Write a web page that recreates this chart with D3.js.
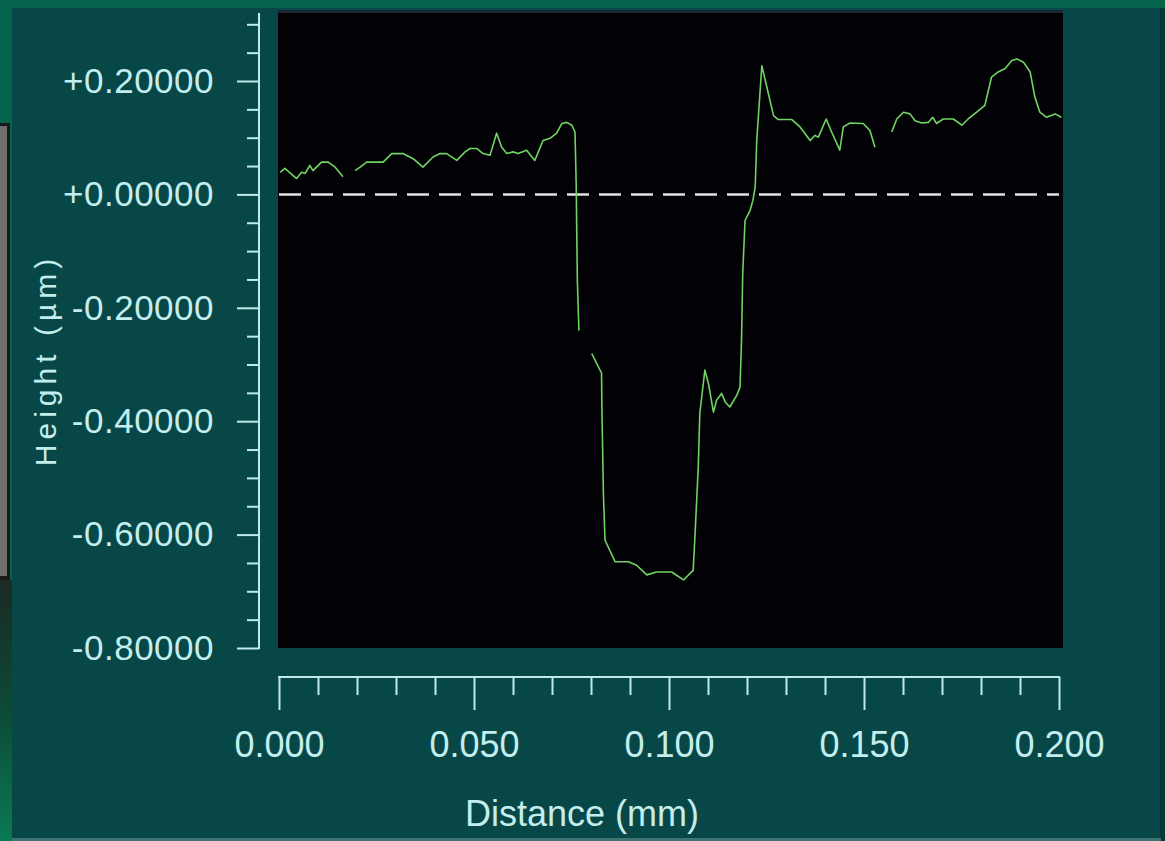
<!DOCTYPE html>
<html>
<head>
<meta charset="utf-8">
<script src="https://cdn.jsdelivr.net/npm/d3@7"></script>
<style>
  html, body { margin: 0; padding: 0; background: #05644b; }
  svg { display: block; }
</style>
</head>
<body>
<svg id="chart" width="1165" height="841"></svg>
<script>
// ---- Data (distance in mm, height in µm; null marks a gap in the trace) ----
const distance = [
  0.0003, 0.0015, 0.0045, 0.0058, 0.0067, 0.0079, 0.0087, 0.0109, 0.0126, 0.0144, 0.0164,
  0.0180,
  0.0195, 0.0208, 0.0225, 0.0267, 0.0289, 0.0318, 0.0344, 0.0369, 0.0395, 0.0413, 0.0430,
  0.0456, 0.0477, 0.0490, 0.0507, 0.0523, 0.0541, 0.0558, 0.0571, 0.0584, 0.0600, 0.0613,
  0.0635, 0.0656, 0.0677, 0.0695, 0.0712, 0.0725, 0.0738, 0.0751, 0.0759, 0.0762, 0.0765,
  0.0769,
  0.0785,
  0.0802, 0.0819, 0.0827, 0.0828, 0.0832, 0.0836, 0.0862, 0.0896, 0.0917, 0.0943, 0.0968,
  0.1007, 0.1037, 0.1062, 0.1067, 0.1075, 0.1079, 0.1092, 0.1101, 0.1114, 0.1122, 0.1135,
  0.1144, 0.1156, 0.1174, 0.1182, 0.1186, 0.1189, 0.1195, 0.1208, 0.1215, 0.1221, 0.1225,
  0.1238, 0.1251, 0.1268, 0.1280, 0.1315, 0.1336, 0.1362, 0.1374, 0.1383, 0.1403, 0.1417,
  0.1438, 0.1447, 0.1464, 0.1498, 0.1515, 0.1528,
  0.1550,
  0.1571, 0.1584, 0.1601, 0.1618, 0.1631, 0.1648, 0.1665, 0.1676, 0.1686, 0.1703, 0.1729,
  0.1751, 0.1767, 0.1789, 0.1810, 0.1827, 0.1844, 0.1862, 0.1879, 0.1892, 0.1909, 0.1926,
  0.1938, 0.1951, 0.1968, 0.1990, 0.2006
];
const height = [
  0.039, 0.046, 0.028, 0.039, 0.037, 0.051, 0.042, 0.057, 0.057, 0.048, 0.031,
  null,
  0.042, 0.048, 0.057, 0.057, 0.072, 0.072, 0.063, 0.048, 0.066, 0.072, 0.072,
  0.060, 0.075, 0.081, 0.081, 0.072, 0.069, 0.108, 0.083, 0.072, 0.075, 0.072,
  0.078, 0.060, 0.095, 0.099, 0.108, 0.125, 0.127, 0.122, 0.110, 0.019, -0.152,
  -0.240,
  null,
  -0.281, -0.304, -0.315, -0.381, -0.533, -0.610, -0.648, -0.648, -0.654, -0.671, -0.666,
  -0.666, -0.680, -0.663, -0.597, -0.481, -0.386, -0.310, -0.333, -0.384, -0.363, -0.351,
  -0.366, -0.375, -0.354, -0.340, -0.257, -0.139, -0.046, -0.028, -0.011, 0.013, 0.095,
  0.227, 0.189, 0.139, 0.132, 0.132, 0.119, 0.095, 0.104, 0.101, 0.133, 0.110,
  0.078, 0.119, 0.126, 0.125, 0.113, 0.083,
  null,
  0.110, 0.133, 0.145, 0.142, 0.130, 0.126, 0.127, 0.136, 0.125, 0.133, 0.133,
  0.122, 0.133, 0.145, 0.157, 0.207, 0.216, 0.222, 0.236, 0.239, 0.233, 0.216,
  0.172, 0.145, 0.136, 0.142, 0.136
];
const xMajorTicks = [0, 0.05, 0.10, 0.15, 0.20];
const xMinorTicks = [0.01, 0.02, 0.03, 0.04, 0.06, 0.07, 0.08, 0.09, 0.11, 0.12, 0.13, 0.14, 0.16, 0.17, 0.18, 0.19];
const yMajorTicks = [0.2, 0.0, -0.2, -0.4, -0.6, -0.8];
const yMinorTicks = [0.30, 0.25, 0.15, 0.10, 0.05, -0.05, -0.10, -0.15, -0.25, -0.30, -0.35, -0.45, -0.50, -0.55, -0.65, -0.70, -0.75];
const xLabel = "Distance (mm)";
const yLabel = "Height (µm)";

// ---- Layout ----
const svg = d3.select("#chart");
const W = 1165, H = 841;
const TEXT = "#c4eeee";
const AXIS = "#bfeaea";
const FONT = "'Liberation Sans', Arial, sans-serif";

// background decoration (slide screenshot frame)
svg.append("rect").attr("x", 0).attr("y", 0).attr("width", W).attr("height", H).attr("fill", "#05644b");
const lg = svg.append("defs").append("linearGradient").attr("id", "leftStrip").attr("x1", 0).attr("y1", 0).attr("x2", 0).attr("y2", 1);
lg.append("stop").attr("offset", "0").attr("stop-color", "#1a2a24");
lg.append("stop").attr("offset", "0.5").attr("stop-color", "#0d4a36");
lg.append("stop").attr("offset", "1").attr("stop-color", "#0a7a55");
svg.append("rect").attr("x", 0).attr("y", 580).attr("width", 12).attr("height", 261).attr("fill", "url(#leftStrip)");
svg.append("rect").attr("x", 0).attr("y", 123).attr("width", 10).attr("height", 457).attr("fill", "#1a1a1a");
svg.append("rect").attr("x", 0).attr("y", 126).attr("width", 7).attr("height", 450).attr("fill", "#6e6e6e");
// teal panel
svg.append("rect").attr("x", 12).attr("y", 8).attr("width", 1149).attr("height", 833).attr("fill", "#084747");
svg.append("rect").attr("x", 1160).attr("y", 8).attr("width", 5).attr("height", 833).attr("fill", "#063838");
svg.append("rect").attr("x", 12).attr("y", 838).attr("width", 1149).attr("height", 3).attr("fill", "#3e7474");

// scales
const x = d3.scaleLinear().domain([0, 0.2]).range([279, 1059]);
const y = d3.scaleLinear().domain([-0.8, 0.2]).range([648, 81]);

// plot area
svg.append("rect").attr("x", 278).attr("y", 10).attr("width", 785).attr("height", 638).attr("fill", "#020206");
svg.append("rect").attr("x", 278).attr("y", 10).attr("width", 785).attr("height", 3).attr("fill", "#1b2838");

// y axis (minor + major)
const yAxisG = svg.append("g").attr("transform", "translate(259,0)");
const yMinor = d3.axisLeft(y).tickValues(yMinorTicks).tickSize(12).tickSizeOuter(0).tickFormat("");
const yMajor = d3.axisLeft(y).tickValues(yMajorTicks).tickSize(22).tickSizeOuter(0).tickPadding(23)
  .tickFormat(d => (d >= 0 ? "+" : "-") + Math.abs(d).toFixed(5));
yAxisG.append("g").call(yMinor);
yAxisG.append("g").call(yMajor);
yAxisG.selectAll(".domain").remove();
yAxisG.append("line").attr("x1", 0).attr("x2", 0).attr("y1", y(0.32)).attr("y2", y(-0.8) + 1)
  .attr("stroke", AXIS).attr("stroke-width", 2);
yAxisG.selectAll(".tick line").attr("stroke", AXIS).attr("stroke-width", 2);
yAxisG.selectAll(".tick text").attr("fill", TEXT).attr("font-family", FONT).attr("font-size", 35)
  .attr("letter-spacing", "0.5px");

// x axis (minor + major)
const xAxisG = svg.append("g").attr("transform", "translate(0,677)");
const xMinor = d3.axisBottom(x).tickValues(xMinorTicks).tickSize(18).tickSizeOuter(0).tickFormat("");
const xMajor = d3.axisBottom(x).tickValues(xMajorTicks).tickSize(33).tickSizeOuter(0).tickPadding(21)
  .tickFormat(d => d.toFixed(3));
xAxisG.append("g").call(xMinor);
xAxisG.append("g").call(xMajor);
xAxisG.selectAll(".domain").remove();
xAxisG.append("line").attr("x1", x(0) - 1).attr("x2", x(0.2) + 1).attr("y1", 0).attr("y2", 0)
  .attr("stroke", AXIS).attr("stroke-width", 2);
xAxisG.selectAll(".tick line").attr("stroke", AXIS).attr("stroke-width", 2);
xAxisG.selectAll(".tick text").attr("fill", TEXT).attr("font-family", FONT).attr("font-size", 36);

// axis titles
svg.append("text").attr("x", 582).attr("y", 826).attr("text-anchor", "middle")
  .attr("fill", TEXT).attr("font-family", FONT).attr("font-size", 36).text(xLabel);
svg.append("text").attr("transform", "translate(56,360) rotate(-90)").attr("text-anchor", "middle")
  .attr("fill", TEXT).attr("font-family", FONT).attr("font-size", 30).attr("letter-spacing", "5px").text(yLabel);

// zero reference line
svg.append("line").attr("x1", x(0)).attr("x2", x(0.2)).attr("y1", y(0)).attr("y2", y(0))
  .attr("stroke", "#e2e2e2").attr("stroke-width", 2.5).attr("stroke-dasharray", "22,10");

// profile trace
const pts = distance.map((d, i) => ({ d: d, h: height[i] }));
const line = d3.line().defined(p => p.h !== null).x(p => x(p.d)).y(p => y(p.h));
svg.append("path").datum(pts).attr("d", line).attr("fill", "none")
  .attr("stroke", "#6fd461").attr("stroke-width", 1.6).attr("stroke-linejoin", "round");
</script>
</body>
</html>
